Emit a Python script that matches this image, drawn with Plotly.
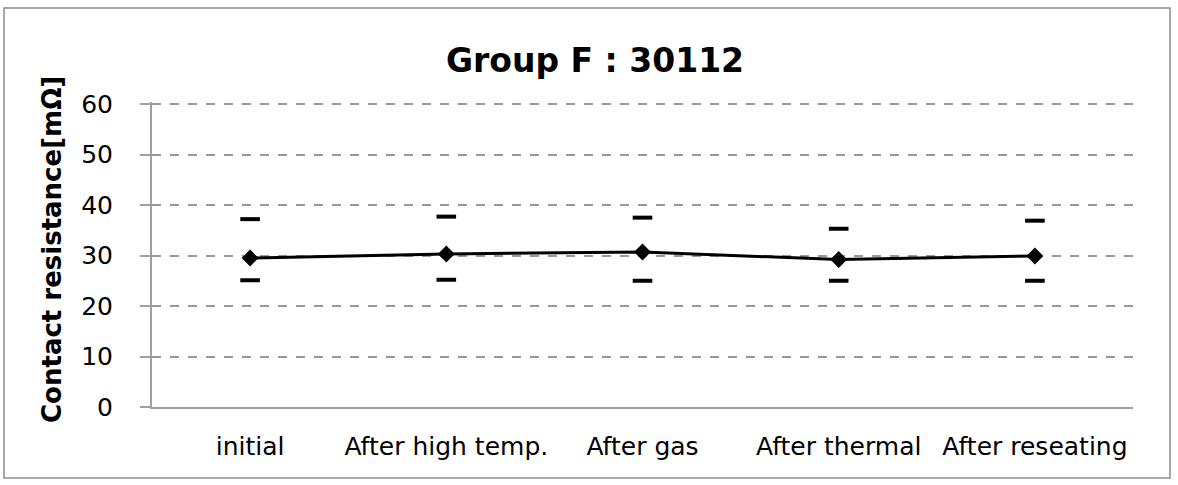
import plotly.graph_objects as go

categories = ["initial", "After high temp.", "After gas", "After thermal", "After reseating"]
avg_values = [29.5, 30.3, 30.7, 29.2, 29.9]
max_values = [37.2, 37.7, 37.5, 35.3, 36.9]
min_values = [25.1, 25.2, 25.0, 25.0, 25.0]
y_ticks = [0, 10, 20, 30, 40, 50, 60]

W, H = 1178, 485
L, R, T, B = 152, 45, 102, 78
pw, ph = W - L - R, H - T - B

fig = go.Figure()

# max / min dashes
fig.add_trace(go.Scatter(
    x=categories, y=max_values, mode='markers',
    marker=dict(symbol='line-ew', size=14, line=dict(width=4, color='black')),
    showlegend=False, hoverinfo='y',
))
fig.add_trace(go.Scatter(
    x=categories, y=min_values, mode='markers',
    marker=dict(symbol='line-ew', size=14, line=dict(width=4, color='black')),
    showlegend=False, hoverinfo='y',
))

# average line
fig.add_trace(go.Scatter(
    x=categories, y=avg_values, mode='lines+markers',
    line=dict(color='black', width=3),
    marker=dict(symbol='diamond', size=13, color='black'),
    showlegend=False,
))

# outer chart border
fig.add_shape(
    type='rect', xref='paper', yref='paper',
    x0=(4 - L) / pw, x1=(1170 - L) / pw,
    y0=(H - B - 478) / ph, y1=(H - B - 8) / ph,
    line=dict(color='#8c8c8c', width=1.5), fillcolor='rgba(0,0,0,0)', layer='below',
)

# y axis title
fig.add_annotation(
    text="<b>Contact resistance[mΩ]</b>", textangle=-90,
    xref='paper', yref='paper', x=(35 - L) / pw, y=(H - B - 250) / ph,
    showarrow=False, font=dict(family="DejaVu Sans", size=26, color='black'),
)

fig.update_layout(
    width=W, height=H,
    margin=dict(l=L, r=R, t=T, b=B),
    paper_bgcolor='white', plot_bgcolor='white',
    title=dict(
        text="<b>Group F : 30112</b>", x=(595 / W), xanchor='center',
        y=1 - 60 / H, yanchor='middle', yref='container',
        font=dict(family="DejaVu Sans", size=33, color='black'),
    ),
    xaxis=dict(
        type='category', range=[-0.5, 4.5],
        showline=True, linecolor='#a0a0a0', linewidth=2,
        showgrid=False, zeroline=False, ticks='',
        tickfont=dict(family="DejaVu Sans", size=25, color='black'),
        ticklabelstandoff=16,
    ),
    yaxis=dict(
        range=[0, 60.4], tickvals=y_ticks,
        showline=True, linecolor='#a0a0a0', linewidth=2,
        ticks='outside', ticklen=10, tickcolor='#a0a0a0', tickwidth=2,
        showgrid=True, gridcolor='#999999', griddash='dash', gridwidth=1.5,
        zeroline=False,
        tickfont=dict(family="DejaVu Sans", size=25, color='black'),
        ticklabelstandoff=22,
    ),
)

fig.write_html("out.html", config={"displayModeBar": False},
               post_script="document.body.style.margin='0';")
